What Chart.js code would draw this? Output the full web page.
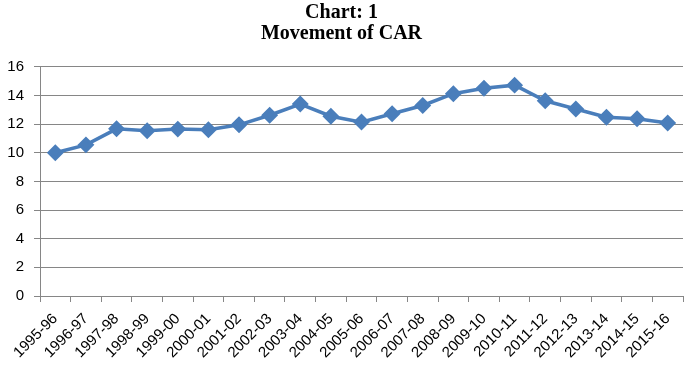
<!DOCTYPE html>
<html><head><meta charset="utf-8">
<script src="https://cdn.jsdelivr.net/npm/chart.js@4"></script>
<style>html,body{margin:0;padding:0;background:#fff}#wrap{width:685px;height:375px}</style>
</head><body><div id="wrap"><canvas id="c" width="685" height="375"></canvas></div>
<script>
const categories = ["1995-96","1996-97","1997-98","1998-99","1999-00","2000-01","2001-02","2002-03","2003-04","2004-05","2005-06","2006-07","2007-08","2008-09","2009-10","2010-11","2011-12","2012-13","2013-14","2014-15","2015-16"];
const carValues = [10.0,10.55,11.67,11.53,11.65,11.6,11.95,12.62,13.4,12.55,12.14,12.72,13.3,14.12,14.5,14.72,13.63,13.05,12.48,12.38,12.07];
const titleLines = ["Chart: 1","Movement of CAR"];

new Chart(document.getElementById('c'), {
  type: 'line',
  data: { labels: categories, datasets: [{
    label: 'CAR', data: carValues,
    borderColor: '#4a7ebb', backgroundColor: '#4a7ebb',
    borderWidth: 3.5, pointStyle: 'rectRot', pointRadius: 6, pointHoverRadius: 6,
    tension: 0
  }]},
  options: {
    responsive: false, animation: false, devicePixelRatio: 1,
    layout: { autoPadding: false, padding: { top: 0, right: 2, left: 0, bottom: 0 } },
    plugins: {
      legend: { display: false },
      tooltip: { enabled: false },
      title: { display: true, text: titleLines, color: '#000',
        font: { family: 'Liberation Serif', size: 20, weight: 'bold', lineHeight: 1.07 },
        padding: { top: 2, bottom: 22 } }
    },
    scales: {
      x: {
        offset: true,
        grid: { offset: true, drawOnChartArea: false, drawTicks: true, tickLength: 6, color: '#868686' },
        border: { color: '#868686', width: 1 },
        ticks: { color: '#000', font: { family: 'Liberation Sans', size: 15 }, minRotation: 45, maxRotation: 45, padding: 8, autoSkip: false },
        afterFit: s => { s.height = 79; s.paddingLeft = 0; s.paddingRight = 0; }
      },
      y: {
        min: 0, max: 16,
        grid: { color: '#868686', tickLength: 6, lineWidth: 1 },
        border: { color: '#868686', width: 1 },
        ticks: { stepSize: 2, color: '#000', font: { family: 'Liberation Sans', size: 15 }, padding: 10 },
        afterFit: s => { s.width = 40; s.paddingTop = 0; s.paddingBottom = 0; }
      }
    }
  }
});
</script></body></html>
